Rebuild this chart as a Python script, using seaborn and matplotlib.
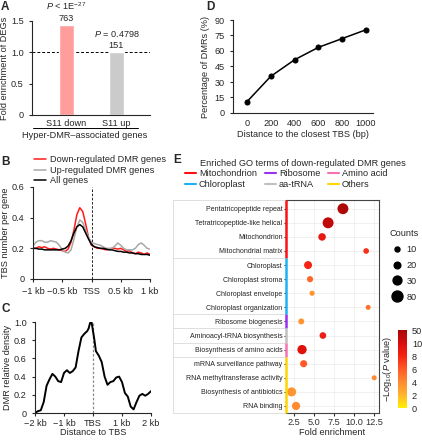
import numpy as np
import pandas as pd
import matplotlib
matplotlib.use("Agg")
import matplotlib.pyplot as plt
import seaborn as sns
from matplotlib.lines import Line2D
from matplotlib.colors import LinearSegmentedColormap, Normalize
from matplotlib.cm import ScalarMappable
import matplotlib.transforms as mtrans

# ---------------- data ----------------
# A
a_groups = ["S11 down", "S11 up"]
a_fold = [1.44, 1.0]
a_counts = [763, 151]
a_pvals = [r"$\it{P}$ < 1E$^{-27}$", r"$\it{P}$ = 0.4798"]

# B (kb)
b_x = np.round(np.arange(-1.0, 1.0001, 0.05), 2)
b_down = [0.20, 0.20, 0.21, 0.205, 0.21, 0.20, 0.195, 0.20, 0.195, 0.19, 0.185,
          0.18, 0.195, 0.24, 0.32, 0.42, 0.465, 0.44, 0.36, 0.27, 0.22,
          0.21, 0.20, 0.20, 0.195, 0.19, 0.195, 0.20, 0.20, 0.195, 0.20,
          0.19, 0.18, 0.185, 0.17, 0.165, 0.175, 0.17, 0.16, 0.17, 0.16]
b_up = [0.215, 0.24, 0.25, 0.25, 0.24, 0.24, 0.25, 0.245, 0.24, 0.22, 0.19,
        0.175, 0.17, 0.19, 0.26, 0.34, 0.385, 0.37, 0.32, 0.27, 0.24,
        0.23, 0.225, 0.22, 0.21, 0.20, 0.20, 0.20, 0.215, 0.235, 0.22,
        0.20, 0.19, 0.19, 0.19, 0.20, 0.225, 0.235, 0.22, 0.20, 0.195]
b_all = [0.20, 0.20, 0.195, 0.195, 0.19, 0.19, 0.19, 0.19, 0.19, 0.19, 0.195,
         0.20, 0.215, 0.25, 0.30, 0.34, 0.355, 0.34, 0.30, 0.26, 0.225,
         0.21, 0.205, 0.20, 0.20, 0.195, 0.19, 0.19, 0.185, 0.18, 0.18,
         0.175, 0.175, 0.17, 0.17, 0.165, 0.165, 0.16, 0.16, 0.16, 0.155]
b_labels = ["Down-regulated DMR genes", "Up-regulated DMR genes", "All genes"]

# C (kb)
c_x = [-2.0, -1.9, -1.8, -1.7, -1.6, -1.5, -1.4, -1.3, -1.2, -1.1, -1.0, -0.9,
       -0.8, -0.7, -0.6, -0.5, -0.4, -0.3, -0.2, -0.15, -0.1, -0.05, 0.0, 0.05,
       0.1, 0.2, 0.3, 0.4, 0.5, 0.6, 0.7, 0.8, 0.9, 1.0, 1.1, 1.2, 1.3, 1.4,
       1.5, 1.6, 1.7, 1.8, 1.9, 2.0]
c_density = [0.0, 0.02, 0.03, 0.12, 0.30, 0.37, 0.43, 0.40, 0.35, 0.34, 0.44, 0.47,
             0.44, 0.46, 0.50, 0.68, 0.83, 0.87, 0.90, 0.93, 0.99, 1.0, 0.90, 0.80,
             0.68, 0.63, 0.56, 0.40, 0.31, 0.34, 0.35, 0.39, 0.40, 0.34, 0.22, 0.18,
             0.07, 0.04, 0.12, 0.19, 0.21, 0.19, 0.21, 0.24]

# D
d_dist = [0, 200, 400, 600, 800, 1000]
d_pct = [11, 35.5, 51.5, 63.5, 72, 80.5]

# E
e_terms = ["Pentatricopeptide repeat", "Tetratricopeptide-like helical",
           "Mitochondrion", "Mitochondrial matrix", "Chloroplast",
           "Chloroplast stroma", "Chloroplast envelope", "Chloroplast organization",
           "Ribosome biogenesis", "Aminoacyl-tRNA biosynthesis",
           "Biosynthesis of amino acids", "mRNA surveillance pathway",
           "RNA methyltransferase activity", "Biosynthesis of antibiotics",
           "RNA binding"]
e_fold = [8.6, 6.75, 6.0, 11.5, 4.25, 4.5, 4.75, 11.75, 3.4, 6.1, 3.5, 3.7, 12.5, 2.2, 2.75]
e_count = [78, 80, 24, 14, 26, 17, 11, 9, 16, 20, 40, 22, 5, 35, 27]
e_logp = [45, 30, 9, 7.5, 8, 5.5, 3.5, 5, 3.5, 8.5, 9.5, 6, 4, 3.5, 4]
e_group = ["Mitochondrion"] * 4 + ["Chloroplast"] * 4 + ["Ribosome", "aa-tRNA", "Amino acid"] + ["Others"] * 4
group_names = ["Mitochondrion", "Chloroplast", "Ribosome", "aa-tRNA", "Amino acid", "Others"]
group_colors = ["#ff1010", "#1ab2f5", "#9b30f0", "#c0c0c0", "#f772b0", "#ffd400"]
cbar_ticks = [0, 2, 4, 6, 8, 10, 50]
count_breaks = [10, 20, 30, 80]

# ---------------- style ----------------
sns.set_style("ticks")
plt.rcParams["font.family"] = ["Liberation Sans", "DejaVu Sans"]
plt.rcParams["mathtext.fontset"] = "custom"
plt.rcParams["mathtext.rm"] = "Liberation Sans"
plt.rcParams["mathtext.it"] = "Liberation Sans:italic"
plt.rcParams["axes.linewidth"] = 0.8
plt.rcParams["xtick.major.width"] = 0.8
plt.rcParams["ytick.major.width"] = 0.8
plt.rcParams["xtick.major.size"] = 2.5
plt.rcParams["ytick.major.size"] = 2.5
FS = 6.6

W, H = 422, 440
fig = plt.figure(figsize=(W / 100, H / 100), dpi=100)


def px_axes(l, t, r, b):
    return fig.add_axes([l / W, 1 - b / H, (r - l) / W, (b - t) / H])


def letter(x, y, s):
    fig.text(x / W, 1 - y / H, s, fontsize=8.5, fontweight="bold", va="top", ha="left")


# ---------------- A ----------------
axA = px_axes(32, 21, 150, 115)
dfA = pd.DataFrame({"group": a_groups, "fold": a_fold})
sns.barplot(data=dfA, x="group", y="fold", hue="group", palette=["#ff9d9d", "#cbcbcb"],
            width=0.3, legend=False, ax=axA, saturation=1)
axA.set_xlim(-0.69, 1.67)
axA.set_ylim(0, 1.5)
axA.axhline(1.0, color="black", ls=(0, (3, 2)), lw=0.7, zorder=0)
axA.set_yticks([0, 0.5, 1.0, 1.5], ["0", "0.5", "1.0", "1.5"], fontsize=FS)
axA.tick_params(axis="x", length=0, labelsize=FS, pad=3)
axA.set_xlabel("")
axA.set_ylabel("Fold enrichment of DEGs", fontsize=FS, labelpad=1.5)
sns.despine(ax=axA)
for i, (v, n, p) in enumerate(zip(a_fold, a_counts, a_pvals)):
    axA.annotate(str(n), (i, v), xytext=(0, 1.5), textcoords="offset points",
                 ha="center", va="bottom", fontsize=FS, annotation_clip=False)
    axA.annotate(p, (i, v), xytext=(0, 9.5), textcoords="offset points",
                 ha="center", va="bottom", fontsize=FS, annotation_clip=False)
axA.plot([0.01, 0.9], [-0.14, -0.14], transform=axA.transAxes, color="black",
         lw=0.7, clip_on=False)
axA.text(0.45, -0.17, "Hyper-DMR\u2013associated genes", transform=axA.transAxes,
         ha="center", va="top", fontsize=FS)
letter(1, 1, "A")

# ---------------- B ----------------
axB = px_axes(33, 187, 150, 279)
dfB = pd.DataFrame({"x": np.tile(b_x, 3), "y": b_down + b_up + b_all,
                    "set": np.repeat(b_labels, len(b_x))})
sns.lineplot(data=dfB, x="x", y="y", hue="set", hue_order=b_labels,
             palette=["#ff1a1a", "#a8a8a8", "black"], lw=1.1, ax=axB)
axB.axvline(0, color="black", ls=(0, (3, 2)), lw=0.6, zorder=0)
axB.set_xlim(-1, 1)
axB.set_ylim(0, 0.6)
axB.set_xticks([-1, -0.5, 0, 0.5, 1], ["\u22121 kb", "\u22120.5 kb", "TSS", "0.5 kb", "1 kb"])
axB.set_yticks([0, 0.2, 0.4, 0.6], ["0", "0.2", "0.4", "0.6"])
axB.tick_params(labelsize=FS)
axB.set_xlabel("")
axB.set_ylabel("TBS number per gene", fontsize=FS, labelpad=1.5)
sns.despine(ax=axB)
axB.legend(loc="lower left", bbox_to_anchor=(-0.03, 0.97), frameon=False, fontsize=FS,
           handlelength=1.3, handletextpad=0.4, labelspacing=0.15, borderpad=0)
letter(1, 156, "B")

# ---------------- C ----------------
axC = px_axes(35, 322, 151, 413)
sns.lineplot(x=c_x, y=c_density, color="black", lw=1.4, ax=axC)
axC.plot([0, 0], [0, 1.0], color="#888888", ls=(0, (2, 1.5)), lw=0.9, zorder=0)
axC.set_xlim(-2, 2)
axC.set_ylim(0, 1.0)
axC.set_xticks([-2, -1, 0, 1, 2], ["\u22122 kb", "\u22121 kb", "TBS", "1 kb", "2 kb"])
axC.set_yticks([0, 0.2, 0.4, 0.6, 0.8, 1.0], ["0", "0.2", "0.4", "0.6", "0.8", "1.0"])
axC.tick_params(labelsize=FS)
axC.tick_params(axis="x", pad=1.5)
axC.set_xlabel("Distance to TBS", fontsize=FS, labelpad=0.5)
axC.set_ylabel("DMR relative density", fontsize=FS, labelpad=1.5)
sns.despine(ax=axC)
letter(1, 303, "C")

# ---------------- D ----------------
axD = px_axes(233, 20, 373, 113)
sns.lineplot(x=d_dist, y=d_pct, color="black", lw=1.1, marker="o", markersize=3.6,
             markeredgecolor="black", ax=axD)
axD.set_xlim(-118, 1060)
axD.set_ylim(0, 90)
axD.set_xticks(d_dist)
axD.set_yticks([0, 15, 30, 45, 60, 75, 90])
axD.tick_params(labelsize=FS)
axD.tick_params(axis="x", length=0, pad=4)
axD.set_xlabel("Distance to the closest TBS (bp)", fontsize=FS, labelpad=2)
axD.set_ylabel("Percentage of DMRs (%)", fontsize=FS, labelpad=3)
sns.despine(ax=axD)
letter(206, 1, "D")

# ---------------- E ----------------
axE = px_axes(286, 200, 379, 413)
cmap = LinearSegmentedColormap.from_list(
    "ylrd", ["#fff000", "#ffb52e", "#ff8a30", "#ff5a28", "#f42514", "#d80c0c", "#a80606"])
pos = np.interp(e_logp, cbar_ticks, np.arange(len(cbar_ticks)))
dia_pt = np.interp(e_count, count_breaks, [3.6, 4.8, 6.4, 7.9])
dfE = pd.DataFrame({"fold": e_fold, "row": np.arange(len(e_terms)), "pos": pos})
sns.scatterplot(data=dfE, x="fold", y="row", hue="pos", palette=cmap,
                hue_norm=(0, len(cbar_ticks) - 1), s=dia_pt ** 2, edgecolor="none",
                legend=False, ax=axE, zorder=3)
axE.set_xlim(1.5, 13.1)
axE.set_ylim(len(e_terms) - 0.5, -0.62)
axE.set_xticks([2.5, 5.0, 7.5, 10.0, 12.5], ["2.5", "5.0", "7.5", "10.0", "12.5"])
axE.set_xticks([1.25 * k for k in range(2, 11, 2)], minor=True)
axE.set_yticks(np.arange(len(e_terms)), e_terms)
axE.tick_params(axis="y", labelsize=5.0, length=1.5, pad=1, colors="#222222")
axE.tick_params(axis="x", labelsize=FS, length=2, pad=1.5, colors="#333333")
axE.tick_params(axis="x", which="minor", length=0)
axE.grid(True, which="both", color="#ececec", lw=0.5)
axE.set_axisbelow(True)
axE.set_xlabel("Fold enrichment", fontsize=FS, labelpad=0.5)
axE.set_ylabel("")
for side in ["top", "right", "bottom"]:
    axE.spines[side].set_color("#444444")
    axE.spines[side].set_linewidth(0.8)
axE.spines["left"].set_visible(False)
# coloured group bars along the y axis
ytrans = mtrans.blended_transform_factory(axE.transAxes, axE.transData)
gcol = dict(zip(group_names, group_colors))
row_edges = []
start = 0
for i in range(1, len(e_group) + 1):
    if i == len(e_group) or e_group[i] != e_group[start]:
        top = -0.62 if start == 0 else start - 0.5
        bot = i - 0.5
        axE.plot([0, 0], [top, bot], color=gcol[e_group[start]], lw=1.8,
                 transform=ytrans, clip_on=False, solid_capstyle="butt", zorder=5)
        row_edges.append(bot)
        start = i
# label column box
box_left = (173 - 286) / 93
for yb in row_edges[:-1]:
    axE.plot([box_left, 0], [yb, yb], color="#d9d9d9", lw=0.6, transform=ytrans, clip_on=False)
axE.plot([box_left, 0], [1, 1], color="#d9d9d9", lw=0.6, transform=axE.transAxes, clip_on=False)
axE.plot([box_left, 0], [0, 0], color="#d9d9d9", lw=0.6, transform=axE.transAxes, clip_on=False)
axE.plot([box_left, box_left], [0, 1], color="#d9d9d9", lw=0.6, transform=axE.transAxes, clip_on=False)

fig.text(200 / W, 1 - 163 / H, "Enriched GO terms of down-regulated DMR genes",
         fontsize=FS, va="center", ha="left")
letter(173, 154, "E")
g_handles = [Line2D([], [], color=c, lw=1.5) for c in group_colors]
fig.legend(g_handles, group_names, loc="upper left", bbox_to_anchor=(185 / W, 1 - 169 / H),
           ncol=3, frameon=False, fontsize=FS, handlelength=1.2, handletextpad=0.3,
           columnspacing=0.9, labelspacing=0.2, borderpad=0, borderaxespad=0)

# counts legend
c_handles = [Line2D([], [], marker="o", ls="", color="black", markersize=m)
             for m in np.interp(count_breaks, count_breaks, [3.6, 4.8, 6.4, 7.9])]
fig.legend(c_handles, [str(c) for c in count_breaks], title="Counts",
           loc="upper left", bbox_to_anchor=(390 / W, 1 - 229 / H), frameon=False,
           fontsize=FS, title_fontsize=FS, handlelength=1.0, handletextpad=0.5,
           labelspacing=0.75, borderpad=0, borderaxespad=0)

# colour bar
cax = px_axes(398, 330, 407, 408)
sm = ScalarMappable(norm=Normalize(0, len(cbar_ticks) - 1), cmap=cmap)
cb = fig.colorbar(sm, cax=cax, ticks=np.arange(len(cbar_ticks)))
cb.ax.set_yticklabels([str(t) for t in cbar_ticks])
cb.ax.tick_params(labelsize=FS, length=1.5, pad=2, color="white")
cb.outline.set_visible(False)
cb.set_label(r"$-$Log$_{10}$($\it{P}$ value)", fontsize=FS, labelpad=3)
cb.ax.yaxis.set_label_position("left")

fig.savefig("out.png", dpi=100)
